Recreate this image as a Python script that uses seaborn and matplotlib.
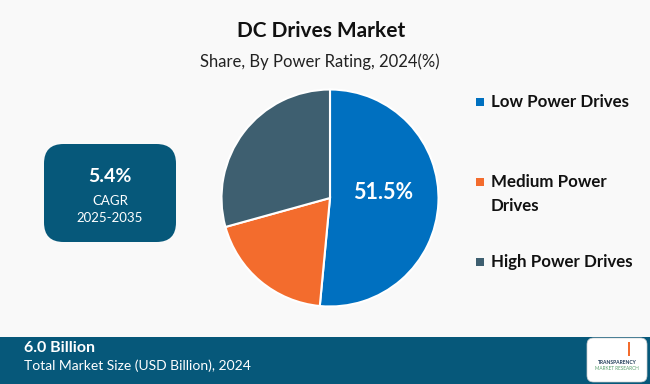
import matplotlib
matplotlib.use("Agg")
import matplotlib.pyplot as plt
from matplotlib.patches import FancyBboxPatch, Rectangle
import seaborn as sns

categories = ["Low Power Drives", "Medium Power\nDrives", "High Power Drives"]
shares = [51.5, 19.2, 29.3]
colors = ["#0070c0", "#f36c2d", "#3e5f70"]
title = "DC Drives Market"
subtitle = "Share, By Power Rating, 2024(%)"
cagr_value = "5.4%"
cagr_label = "CAGR"
cagr_period = "2025-2035"
market_value = "6.0 Billion"
market_label = "Total Market Size (USD Billion), 2024"

sns.set_theme(style="white")
plt.rcParams["font.family"] = ["Lato", "DejaVu Sans"]

W, H = 650, 384
bg = "#f9f9f9"
navy = "#06587a"
fig = plt.figure(figsize=(6.5, 3.84), dpi=100, facecolor=bg)

def fx(x):
    return x / W

def fy(y):
    return 1 - y / H

# Title
fig.text(fx(321), fy(31), title, ha="center", va="center", fontsize=15, fontweight="bold", color="#111111")
fig.text(fx(320), fy(62), subtitle, ha="center", va="center", fontsize=12, color="#222222")

# Pie
cx, cy, r = 330, 198, 108.5
ax = fig.add_axes([fx(cx - r), fy(cy + r), 2 * r / W, 2 * r / H])
ax.pie(shares, colors=colors, startangle=90, counterclock=False,
       wedgeprops=dict(edgecolor="white", linewidth=1.5))
ax.set_xlim(-1, 1)
ax.set_ylim(-1, 1)
ax.set_aspect("auto")
ax.axis("off")
ax.text(0.49, 0.055, f"{shares[0]}%", ha="center", va="center", fontsize=15.5,
        fontweight="bold", color="white")

# Legend
leg_rows = [102, 194, 262]
for cat, col, y in zip(categories, colors, leg_rows):
    nlines = cat.count("\n") + 1
    ytop = y if nlines == 1 else y - 12
    fig.patches.append(Rectangle((fx(476), fy(ytop + 4)), 8 / W, 8 / H,
                                 transform=fig.transFigure, facecolor=col, edgecolor="none"))
    fig.text(fx(491), fy(y), cat, ha="left", va="center", fontsize=12.2,
             fontweight="bold", color="#111111", linespacing=1.55)

# CAGR box
fig.patches.append(FancyBboxPatch((fx(44), fy(242)), (176 - 44) / W, (242 - 144) / H,
                                  boxstyle="round,pad=0,rounding_size=0.03",
                                  transform=fig.transFigure, facecolor=navy, edgecolor="none",
                                  mutation_aspect=W / H))
fig.text(fx(110), fy(177), cagr_value, ha="center", va="center", fontsize=14,
         fontweight="bold", color="white")
fig.text(fx(110), fy(201), cagr_label, ha="center", va="center", fontsize=9.5, color="white")
fig.text(fx(110), fy(218), cagr_period, ha="center", va="center", fontsize=9.5, color="white")

# Bottom banner
fig.patches.append(Rectangle((0, 0), 1, (384 - 337) / H, transform=fig.transFigure,
                             facecolor=navy, edgecolor="none"))
fig.text(fx(24), fy(348), market_value, ha="left", va="center", fontsize=11.5,
         fontweight="bold", color="white")
fig.text(fx(24), fy(366), market_label, ha="left", va="center", fontsize=10, color="white")

# Logo
fig.patches.append(FancyBboxPatch((fx(587), fy(382)), 60 / W, 44 / H,
                                  boxstyle="round,pad=0,rounding_size=0.01",
                                  transform=fig.transFigure, facecolor="white", edgecolor="#cccccc",
                                  linewidth=0.5, mutation_aspect=W / H))
fig.text(fx(617), fy(362), "TRANSPARENCY", ha="center", va="center", fontsize=3.6,
         fontweight="bold", color="#1f3b57")
fig.text(fx(617), fy(369), "MARKET RESEARCH", ha="center", va="center", fontsize=3.4,
         color="#5aa06e")
fig.patches.append(FancyBboxPatch((fx(628), fy(356)), 2 / W, 14 / H, boxstyle="square,pad=0",
                                  transform=fig.transFigure, facecolor="#f36c2d", edgecolor="none"))

fig.savefig("out.png", dpi=100, facecolor=bg)
